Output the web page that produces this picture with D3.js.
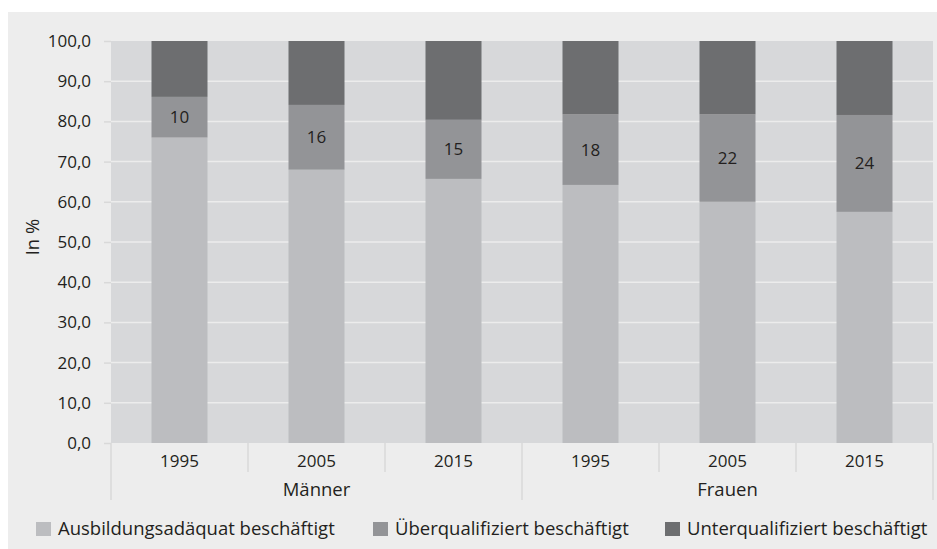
<!DOCTYPE html>
<html>
<head>
<meta charset="utf-8">
<script src="https://cdn.jsdelivr.net/npm/d3@7"></script>
<style>
  body { margin: 0; background: #fff; }
  text { font-family: "Open Sans", "Noto Sans", sans-serif; fill: #231f20; }
</style>
</head>
<body>
<div id="chart"></div>
<script>
// data
const groups = ["Männer", "Frauen"];
const years = ["1995", "2005", "2015"];
const adaequat = [76.0, 68.0, 65.7, 64.2, 60.0, 57.5];
const ueber = [10.1, 16.1, 14.7, 17.6, 21.8, 24.1];
const unter = [13.9, 15.9, 19.6, 18.2, 18.2, 18.4];
const ueberLabels = ["10", "16", "15", "18", "22", "24"];
const seriesNames = ["Ausbildungsadäquat beschäftigt", "Überqualifiziert beschäftigt", "Unterqualifiziert beschäftigt"];
const yTicks = [0, 10, 20, 30, 40, 50, 60, 70, 80, 90, 100];

const colors = ["#bcbdc0", "#939497", "#6d6e70"];
const width = 937, height = 549;
const margin = { top: 41, left: 111, right: 4, bottom: 106 };
const numSize = "17px", wordSize = "18.5px";

const cats = [];
groups.forEach(g => years.forEach(y => cats.push(g + "|" + y)));
const rows = cats.map((c, i) => ({ key: c, a: adaequat[i], u: ueber[i], n: unter[i], label: ueberLabels[i] }));

const svg = d3.select("#chart").append("svg")
  .attr("width", width).attr("height", height);

svg.append("rect").attr("x", 8).attr("y", 12)
  .attr("width", width - 8).attr("height", height - 12).attr("fill", "#ededed");

const x = d3.scaleBand().domain(cats)
  .range([margin.left, width - margin.right]).paddingInner(0).paddingOuter(0);
const y = d3.scaleLinear().domain([0, 100]).range([height - margin.bottom, margin.top]);

// plot background
svg.append("rect").attr("x", margin.left).attr("y", y(100))
  .attr("width", x.range()[1] - margin.left).attr("height", y(0) - y(100))
  .attr("fill", "#d7d8da");

// gridlines
svg.append("g").selectAll("line").data(yTicks.filter(d => d > 0 && d < 100)).join("line")
  .attr("x1", margin.left).attr("x2", x.range()[1])
  .attr("y1", d => y(d)).attr("y2", d => y(d))
  .attr("stroke", "#ececec").attr("stroke-width", 1.5);

// y axis
const yAxis = svg.append("g").attr("transform", `translate(${margin.left},0)`)
  .call(d3.axisLeft(y).tickValues(yTicks).tickSize(7).tickPadding(13)
    .tickFormat(d => d3.format(".1f")(d).replace(".", ",")));
yAxis.select(".domain").remove();
yAxis.selectAll("line").attr("stroke", "#d9d9d9").attr("stroke-width", 1.5);
yAxis.selectAll("text").style("font-size", numSize).attr("fill", "#231f20");

svg.append("text")
  .attr("transform", `translate(39,237) rotate(-90)`)
  .attr("text-anchor", "middle").style("font-size", wordSize).text("In %");

// stacked bars
const stack = d3.stack().keys(["a", "u", "n"])(rows);
const bw = 56;
svg.append("g").selectAll("g").data(stack).join("g")
  .attr("fill", (d, i) => colors[i])
  .selectAll("rect").data(d => d).join("rect")
  .attr("x", d => x(d.data.key) + x.bandwidth() / 2 - bw / 2)
  .attr("width", bw)
  .attr("y", d => y(d[1]))
  .attr("height", d => y(d[0]) - y(d[1]));

svg.append("g").selectAll("text").data(stack[1]).join("text")
  .attr("x", d => x(d.data.key) + x.bandwidth() / 2)
  .attr("y", d => y((d[0] + d[1]) / 2) + 6)
  .attr("text-anchor", "middle").style("font-size", numSize)
  .text(d => d.data.label);

// x axis with category separators
const base = y(0);
const xg = svg.append("g");
cats.forEach((c, i) => {
  const yr = c.split("|")[1];
  xg.append("text").attr("x", x(c) + x.bandwidth() / 2).attr("y", base + 24)
    .attr("text-anchor", "middle").style("font-size", numSize).text(yr);
  const isGroupEdge = i % years.length === 0;
  xg.append("line").attr("x1", x(c)).attr("x2", x(c))
    .attr("y1", base).attr("y2", isGroupEdge ? base + 57 : base + 29)
    .attr("stroke", "#d9d9d9").attr("stroke-width", 1.5);
});
xg.append("line").attr("x1", x.range()[1]).attr("x2", x.range()[1])
  .attr("y1", base).attr("y2", base + 57)
  .attr("stroke", "#d9d9d9").attr("stroke-width", 1.5);
groups.forEach(g => {
  const first = x(g + "|" + years[0]);
  const last = x(g + "|" + years[years.length - 1]) + x.bandwidth();
  xg.append("text").attr("x", (first + last) / 2).attr("y", base + 53)
    .attr("text-anchor", "middle").style("font-size", wordSize).text(g);
});

// legend
const legendX = [36, 373, 665];
const lg = svg.append("g").selectAll("g").data(seriesNames).join("g")
  .attr("transform", (d, i) => `translate(${legendX[i]},522)`);
lg.append("rect").attr("width", 15).attr("height", 14).attr("fill", (d, i) => colors[i]);
lg.append("text").attr("x", 22).attr("y", 13).style("font-size", wordSize).text(d => d);
</script>
</body>
</html>
